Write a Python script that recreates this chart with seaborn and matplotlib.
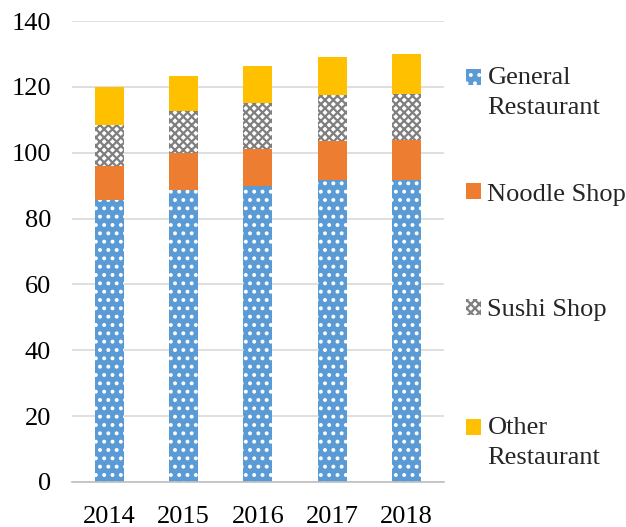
import matplotlib
matplotlib.use("Agg")
import matplotlib.pyplot as plt
import seaborn as sns
import numpy as np
import pandas as pd
from matplotlib.patches import Patch, Rectangle
from matplotlib.legend_handler import HandlerPatch

years = ["2014", "2015", "2016", "2017", "2018"]
general = [85.6, 88.7, 89.9, 91.7, 91.7]
noodle = [10.5, 11.1, 11.1, 11.8, 12.2]
sushi = [12.3, 13.0, 14.0, 14.0, 14.0]
other = [11.6, 10.5, 11.4, 11.7, 12.0]
series_names = ["General\nRestaurant", "Noodle Shop", "Sushi Shop", "Other\nRestaurant"]
y_ticks = [0, 20, 40, 60, 80, 100, 120, 140]

sns.set_style("white")
plt.rcParams['font.family'] = ['Liberation Serif', 'DejaVu Serif']
plt.rcParams['hatch.linewidth'] = 1.6

fig = plt.figure(figsize=(6.26, 5.27), dpi=100)
ax = fig.add_axes([0.115, 0.0854, 0.594, 0.8746])

df = pd.DataFrame({"year": years, "general": general, "noodle": noodle,
                   "sushi": sushi, "other": other})
df["c1"] = df["general"]
df["c2"] = df["c1"] + df["noodle"]
df["c3"] = df["c2"] + df["sushi"]
df["c4"] = df["c3"] + df["other"]

styles = [
    ("c4", "#FFC000", None, None),
    ("c3", "#FFFFFF", "xxxx", "#7F7F7F"),
    ("c2", "#ED7D31", None, None),
    ("c1", "#5B9BD5", "..", "#FFFFFF"),
]
for col, fc, hatch, hc in styles:
    n0 = len(ax.patches)
    sns.barplot(data=df, x="year", y=col, color=fc, saturation=1, width=0.39,
                ax=ax, zorder=2)
    for p in ax.patches[n0:]:
        p.set_facecolor(fc)
        if hatch:
            p.set_hatch(hatch)
            p.set_edgecolor(hc)
            p.set_linewidth(0)
        else:
            p.set_edgecolor(fc)
            p.set_linewidth(0)

ax.set_ylim(0, 140)
ax.set_xlim(-0.5, 4.5)
ax.set_yticks(y_ticks)
ax.set_yticklabels([str(v) for v in y_ticks])
ax.set_xlabel("")
ax.set_ylabel("")
ax.yaxis.grid(True, color="#D9D9D9", linewidth=1.2, zorder=0)
ax.set_axisbelow(True)
for s in ["top", "right", "left"]:
    ax.spines[s].set_visible(False)
ax.spines["bottom"].set_color("#BFBFBF")
ax.spines["bottom"].set_linewidth(1.2)
ax.tick_params(axis="y", length=0, labelsize=19, pad=15, colors="black")
ax.tick_params(axis="x", which="major", length=0, labelsize=19, pad=17, colors="black")
ax.set_xticks(np.arange(-0.5, 5.0, 1.0), minor=True)
ax.tick_params(axis="x", which="minor", length=6, width=1.2, color="#BFBFBF")

handles = [
    Patch(facecolor="#5B9BD5", hatch="..", edgecolor="#FFFFFF", linewidth=0),
    Patch(facecolor="#ED7D31", edgecolor="#ED7D31", linewidth=0),
    Patch(facecolor="#FFFFFF", hatch="xxxx", edgecolor="#7F7F7F", linewidth=0),
    Patch(facecolor="#FFC000", edgecolor="#FFC000", linewidth=0),
]


def first_line_patch(legend, orig_handle, xdescent, ydescent, width, height, fontsize):
    return Rectangle((-xdescent, -ydescent + 10.5), width, height)


legend_y = [0.824, 0.631, 0.412, 0.160]
for h, name, yy in zip(handles, series_names, legend_y):
    hm = {}
    if "\n" in name:
        hm = {h: HandlerPatch(patch_func=first_line_patch)}
    leg = fig.legend([h], [name], loc="center left", bbox_to_anchor=(0.728, yy),
                     frameon=False, fontsize=19, handlelength=0.55,
                     handleheight=0.55, handletextpad=0.25, borderaxespad=0,
                     handler_map=hm)
    for t in leg.get_texts():
        t.set_linespacing(1.45)

fig.savefig("out.png", dpi=100)
